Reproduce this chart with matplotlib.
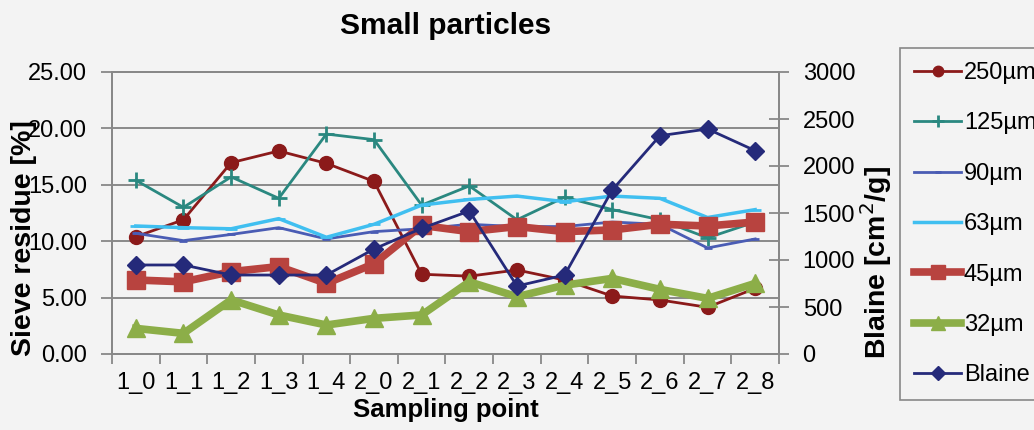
import matplotlib
matplotlib.use("Agg")
import matplotlib.pyplot as plt
import numpy as np

plt.rcParams['font.family'] = ['Liberation Sans', 'DejaVu Sans']

categories = ["1_0", "1_1", "1_2", "1_3", "1_4", "2_0", "2_1",
              "2_2", "2_3", "2_4", "2_5", "2_6", "2_7", "2_8"]

s250 = [10.4, 11.9, 16.96, 18.0, 16.9, 15.3, 7.07, 6.9, 7.45, 6.56, 5.14, 4.79, 4.14, 5.82]
s125 = [15.4, 13.0, 15.7, 13.8, 19.5, 19.0, 13.2, 14.9, 11.9, 13.9, 12.8, 11.9, 10.3, 11.7]
s90 = [10.7, 10.05, 10.6, 11.2, 10.2, 10.85, 11.1, 11.5, 11.3, 11.3, 11.7, 11.5, 9.4, 10.2]
s63 = [11.35, 11.2, 11.1, 12.0, 10.35, 11.5, 13.2, 13.7, 14.0, 13.5, 14.0, 13.8, 12.1, 12.8]
s45 = [6.56, 6.4, 7.3, 7.75, 6.26, 8.0, 11.4, 10.85, 11.3, 10.85, 11.0, 11.5, 11.35, 11.7]
s32 = [2.27, 1.83, 4.8, 3.46, 2.57, 3.16, 3.46, 6.4, 5.08, 6.1, 6.7, 5.73, 4.93, 6.26]
blaine = [947, 947, 840, 840, 840, 1117, 1337, 1521, 723, 840, 1745, 2322, 2394, 2163]

left_ticks = [0, 5, 10, 15, 20, 25]
right_ticks = [0, 500, 1000, 1500, 2000, 2500, 3000]

bg = "#f3f3f3"
fs = 17
lfs = 20.5

fig = plt.figure(figsize=(10.34, 4.30), dpi=100, facecolor=bg)
ax = fig.add_axes([112/1034, 1-354/430, (779-112)/1034, (354-72)/430])
ax.set_facecolor(bg)

x = np.arange(len(categories))

series = [
    (s250, "250µm", "#8b1a1a", 2.0, "o", 10),
    (s125, "125µm", "#2a8880", 2.0, "+", 12),
    (s90, "90µm", "#4a5cb4", 2.0, "_", 6),
    (s63, "63µm", "#40bff0", 2.5, "_", 8),
    (s45, "45µm", "#b8433f", 5.5, "s", 13),
    (s32, "32µm", "#8cae48", 5.5, "^", 13),
]
handles = []
for vals, lab, col, lw, mk, ms in series:
    h, = ax.plot(x, vals, color=col, lw=lw, marker=mk, ms=ms,
                 mec=col, mfc=col, mew=2 if mk in "+_" else 1, label=lab)
    handles.append(h)

ax.set_xlim(-0.5, len(categories) - 0.5)
ax.set_ylim(0, 25)
ax.set_yticks(left_ticks)
ax.set_yticklabels([f"{v:.2f}" for v in left_ticks])
ax.set_xticks(x)
ax.set_xticklabels(categories)
ax.set_xticks(np.arange(-0.5, len(categories), 1), minor=True)
ax.tick_params(axis='x', which='major', length=0, pad=13, labelsize=fs)
ax.tick_params(axis='x', which='minor', length=7, color="#888888", width=1.3, direction='out')
ax.tick_params(axis='y', length=8, color="#888888", width=1.3, direction='out', pad=10, labelsize=fs)
ax.yaxis.grid(True, color="#8a8a8a", lw=1.4)
ax.set_axisbelow(True)
for sp in ax.spines.values():
    sp.set_color("#888888")
    sp.set_linewidth(1.3)

ax.set_ylabel("Sieve residue [%]", fontsize=lfs, fontweight='bold')
ax.yaxis.set_label_coords((37 - 112) / 667, (354 - 238) / 282)
ax.set_xlabel("Sampling point", fontsize=18.5, fontweight='bold', labelpad=3)
ax.set_title("Small particles", fontsize=21.5, fontweight='bold', pad=27)

ax2 = ax.twinx()
hb, = ax2.plot(x, blaine, color="#252a7a", lw=2, marker="D", ms=9, mfc="#252a7a", mec="#252a7a", label="Blaine")
handles.append(hb)
ax2.set_ylim(0, 3000)
ax2.set_yticks(right_ticks)
ax2.tick_params(axis='y', length=14, color="#888888", width=1.3, direction='inout', pad=10, labelsize=fs)
for sp in ax2.spines.values():
    sp.set_color("#888888")
    sp.set_linewidth(1.3)
ax2.set_ylabel("Blaine [cm$^2$/g]", fontsize=lfs, fontweight='bold')
ax2.yaxis.set_label_coords((858 - 112) / 667, (354 - 262) / 282)

leg = ax2.legend(handles=handles, loc='upper left', bbox_to_anchor=(900/1034, 1-48/430),
                 bbox_transform=fig.transFigure, fontsize=fs, frameon=True, fancybox=False,
                 edgecolor="#888888", facecolor=bg, framealpha=1, handlelength=2.0,
                 handletextpad=0.1, labelspacing=1.2, borderpad=0.6, borderaxespad=0,
                 markerscale=0.75)
leg.get_frame().set_linewidth(1.2)

fig.savefig("out.png", dpi=100, facecolor=bg)
